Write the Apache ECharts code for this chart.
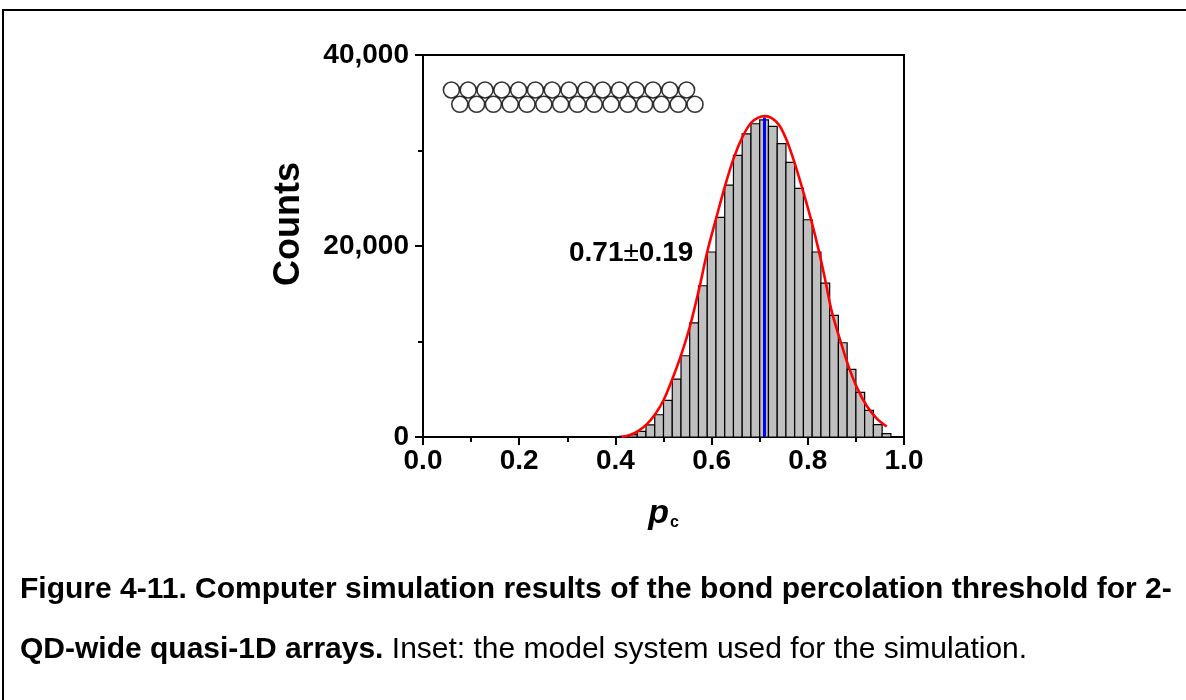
<!DOCTYPE html>
<html>
<head>
<meta charset="utf-8">
<script src="https://cdn.jsdelivr.net/npm/echarts@6/dist/echarts.min.js"></script>
<style>
html,body{margin:0;padding:0;background:#fff;}
#c{width:1186px;height:700px;}
</style>
</head>
<body>
<div id="c"></div>
<script>
// ---- data ----
var binCenters = [0.4000,0.4182,0.4364,0.4545,0.4727,0.4909,0.5091,0.5273,0.5455,0.5636,
  0.5818,0.6000,0.6182,0.6364,0.6545,0.6727,0.6909,0.7091,0.7273,0.7455,
  0.7636,0.7818,0.8000,0.8182,0.8364,0.8545,0.8727,0.8909,0.9091,0.9273,
  0.9455,0.9636];
var binCounts = [40,80,250,590,1260,2330,3830,6070,8510,11940,
  15840,19370,22990,26380,29480,31750,32800,33200,32520,30710,
  28750,26030,22750,19370,16120,12730,9870,7080,4670,2790,
  1290,350];
var binWidth = 0.01818;
var fitX = [0.413,0.430,0.447,0.465,0.483,0.501,0.519,0.537,0.555,0.574,0.591,0.610,0.628,0.646,0.664,0.682,0.697,0.711,0.725,0.740,0.755,0.770,0.787,0.805,0.822,0.836,0.850,0.867,0.884,0.902,0.922,0.943,0.964];
var fitY = [0,200,620,1320,2400,3950,6150,8650,11600,15500,19400,23000,26300,29200,31400,32900,33450,33600,33400,32700,31200,29100,26300,23100,19700,16500,13100,10200,7500,5200,3300,1950,1100];
var meanX = 0.71;
var meanTop = 33450;
var xTicks = [0.0,0.2,0.4,0.6,0.8,1.0];
var yTicks = [0,20000,40000];
var insetRow1 = [0.5,1.5,2.5,3.5,4.5,5.5,6.5,7.5,8.5,9.5,10.5,11.5,12.5,13.5,14.5];
var insetRow2 = [1,2,3,4,5,6,7,8,9,10,11,12,13,14,15];
var annotation = '0.71±0.19';
var captionBold1 = 'Figure 4-11. Computer simulation results of the bond percolation threshold for 2-';
var captionBold2 = 'QD-wide quasi-1D arrays.';
var captionReg2 = ' Inset: the model system used for the simulation.';

var FONT = "'Liberation Sans', Arial, sans-serif";
var chart = echarts.init(document.getElementById('c'), null, {renderer:'canvas'});

var binData = binCenters.map(function(x,i){return [x, binCounts[i]];});
var fitData = fitX.map(function(x,i){return [x, fitY[i]];});

var option = {
  backgroundColor:'#fff',
  animation:false,
  grid:[
    {left:423, top:55, width:481, height:382, show:true, borderColor:'#000', borderWidth:2, backgroundColor:'transparent'},
    {left:443, top:90, width:260.4, height:14.3, show:false}
  ],
  xAxis:[
    {type:'value', gridIndex:0, min:0, max:1, interval:0.2,
     axisLine:{show:true, lineStyle:{color:'#000', width:2}},
     axisTick:{show:true, inside:false, length:8, lineStyle:{color:'#000', width:2}},
     minorTick:{show:true, splitNumber:2, length:5, lineStyle:{color:'#000', width:2}},
     splitLine:{show:false},
     axisLabel:{margin:10, color:'#000', fontFamily:FONT, fontWeight:'bold', fontSize:28,
       formatter:function(v){return v.toFixed(1);}},
     name:'{p|p}{c|c}', nameLocation:'middle', nameGap:60,
     nameTextStyle:{rich:{
       p:{fontFamily:FONT, fontWeight:'bold', fontStyle:'italic', fontSize:34, color:'#000'},
       c:{fontFamily:FONT, fontWeight:'bold', fontSize:16, color:'#000', verticalAlign:'bottom', padding:[18,0,0,1]}
     }}
    },
    {type:'value', gridIndex:1, min:0, max:15.5, show:false}
  ],
  yAxis:[
    {type:'value', gridIndex:0, min:0, max:40000, interval:20000,
     axisLine:{show:true, lineStyle:{color:'#000', width:2}},
     axisTick:{show:true, inside:false, length:8, lineStyle:{color:'#000', width:2}},
     minorTick:{show:true, splitNumber:2, length:5, lineStyle:{color:'#000', width:2}},
     splitLine:{show:false},
     axisLabel:{margin:14, color:'#000', fontFamily:FONT, fontWeight:'bold', fontSize:28,
       formatter:function(v){return v.toLocaleString('en-US');}}
    },
    {type:'value', gridIndex:1, min:0, max:1, show:false}
  ],
  series:[
    {type:'custom', xAxisIndex:0, yAxisIndex:0, data:binData, z:2,
     renderItem:function(params, api){
       var x = api.value(0), y = api.value(1);
       var p0 = api.coord([x - binWidth/2, y]);
       var p1 = api.coord([x + binWidth/2, 0]);
       return {type:'rect', shape:{x:p0[0], y:p0[1], width:p1[0]-p0[0], height:p1[1]-p0[1]},
         style:{fill:'#c0c0c0', stroke:'#000', lineWidth:1.2}};
     }},
    {type:'line', xAxisIndex:0, yAxisIndex:0, data:[[meanX,0],[meanX,meanTop]], symbol:'none',
     lineStyle:{color:'#0000ff', width:3}, z:3},
    {type:'line', xAxisIndex:0, yAxisIndex:0, data:fitData, symbol:'none', smooth:0.35,
     lineStyle:{color:'#ff0000', width:2.6}, z:4},
    {type:'scatter', xAxisIndex:1, yAxisIndex:1, data:insetRow1.map(function(x){return [x,1];}),
     symbol:'circle', symbolSize:16, itemStyle:{color:'#fff', borderColor:'#000', borderWidth:1.6}, z:5},
    {type:'scatter', xAxisIndex:1, yAxisIndex:1, data:insetRow2.map(function(x){return [x,0];}),
     symbol:'circle', symbolSize:16, itemStyle:{color:'#fff', borderColor:'#000', borderWidth:1.6}, z:5}
  ],
  graphic:[
    {type:'rect', shape:{x:3, y:10, width:1400, height:1000}, style:{fill:'none', stroke:'#000', lineWidth:2}, z:0, silent:true},
    {type:'text', x:289, y:224, rotation:Math.PI/2,
     style:{text:'Counts', fontFamily:FONT, fontWeight:'bold', fontSize:36, fill:'#000', align:'center', verticalAlign:'middle'}},
    {type:'text', x:569, y:253,
     style:{text:'{b|0.71}{r|±}{b|0.19}', align:'left', verticalAlign:'middle',
       rich:{b:{fontFamily:FONT, fontWeight:'bold', fontSize:28, fill:'#000'},
             r:{fontFamily:FONT, fontWeight:'normal', fontSize:28, fill:'#000'}}}},
    {type:'text', x:20, y:590,
     style:{text:captionBold1, fontFamily:FONT, fontWeight:'bold', fontSize:30, fill:'#000', align:'left', verticalAlign:'middle'}},
    {type:'text', x:20, y:650,
     style:{text:'{b|'+captionBold2+'}{r|'+captionReg2+'}', align:'left', verticalAlign:'middle',
       rich:{b:{fontFamily:FONT, fontWeight:'bold', fontSize:30, fill:'#000'},
             r:{fontFamily:FONT, fontWeight:'normal', fontSize:30, fill:'#000'}}}}
  ]
};
chart.setOption(option);
</script>
</body>
</html>
